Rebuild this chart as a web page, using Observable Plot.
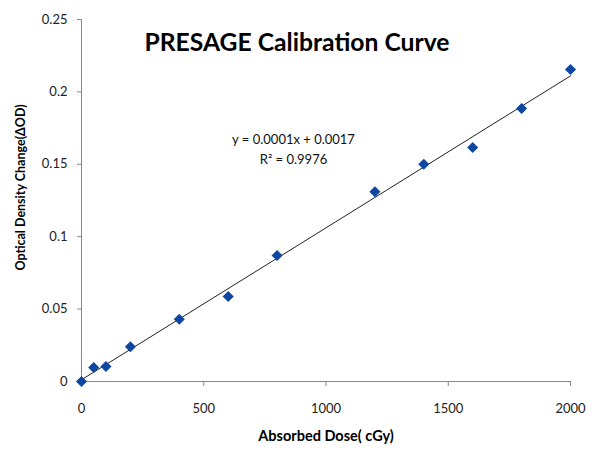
<!DOCTYPE html>
<html><head><meta charset="utf-8">
<script src="https://cdn.jsdelivr.net/npm/d3@7"></script>
<script src="https://cdn.jsdelivr.net/npm/@observablehq/plot@0.6"></script>
<style>body{margin:0;background:#fff;} svg{font-family:Lato,"Open Sans",sans-serif;}</style>
</head><body><div id="chart"></div>
<script>
const dose = [0, 50, 100, 200, 400, 600, 800, 1200, 1400, 1600, 1800, 2000];
const deltaOD = [0, 0.0097, 0.0104, 0.024, 0.043, 0.0587, 0.087, 0.131, 0.150, 0.1616, 0.1885, 0.2155];
const xTicks = [0, 500, 1000, 1500, 2000];
const yTicks = [0, 0.05, 0.1, 0.15, 0.2, 0.25];
const title = "PRESAGE Calibration Curve";
const eqText = "y = 0.0001x + 0.0017";
const r2Text = "R² = 0.9976";

const data = dose.map((d, i) => ({dose: d, od: deltaOD[i]}));

const chart = Plot.plot({
  width: 597, height: 449,
  marginLeft: 81, marginRight: 27, marginTop: 19, marginBottom: 68,
  style: {fontFamily: "Lato, 'Open Sans', sans-serif", background: "#fff"},
  x: {domain: [0, 2000], label: null},
  y: {domain: [0, 0.25], label: null},
  marks: [
    Plot.ruleX([0], {stroke: "#888"}),
    Plot.ruleY([0], {stroke: "#888"}),
    Plot.axisX({ticks: xTicks, tickSize: 5, tickPadding: 17, stroke: "#888", fill: "#222", fontSize: 13, tickFormat: d => String(d)}),
    Plot.axisY({ticks: yTicks, tickSize: 4, tickPadding: 10, stroke: "#888", fill: "#222", fontSize: 13, tickFormat: d => String(d)}),
    Plot.linearRegressionY(data, {x: "dose", y: "od", ci: 0, stroke: "#222", strokeWidth: 1}),
    Plot.dot(data, {x: "dose", y: "od", symbol: "diamond2", r: 5, fill: "#0d47a1", stroke: "none"}),
    Plot.text([title], {frameAnchor: "top", dx: -29, dy: 14, fontSize: 24.7, fontWeight: "bold", fill: "#000", text: d => d}),
    Plot.text([eqText], {frameAnchor: "top-left", dx: 212, dy: 115, fontSize: 13, fill: "#111", textAnchor: "middle", text: d => d}),
    Plot.text([r2Text], {frameAnchor: "top-left", dx: 212, dy: 135, fontSize: 13, fill: "#111", textAnchor: "middle", text: d => d}),
    Plot.text(["Absorbed Dose( cGy)"], {frameAnchor: "bottom", dy: 59, fontSize: 14.5, fontWeight: "bold", fill: "#000", text: d => d}),
    Plot.text(["Optical Density Change(ΔOD)"], {frameAnchor: "left", dx: -61, dy: -13, rotate: -90, textAnchor: "middle", fontSize: 12.5, fontWeight: "bold", fill: "#000", text: d => d})
  ]
});
document.getElementById("chart").appendChild(chart);
</script></body></html>
